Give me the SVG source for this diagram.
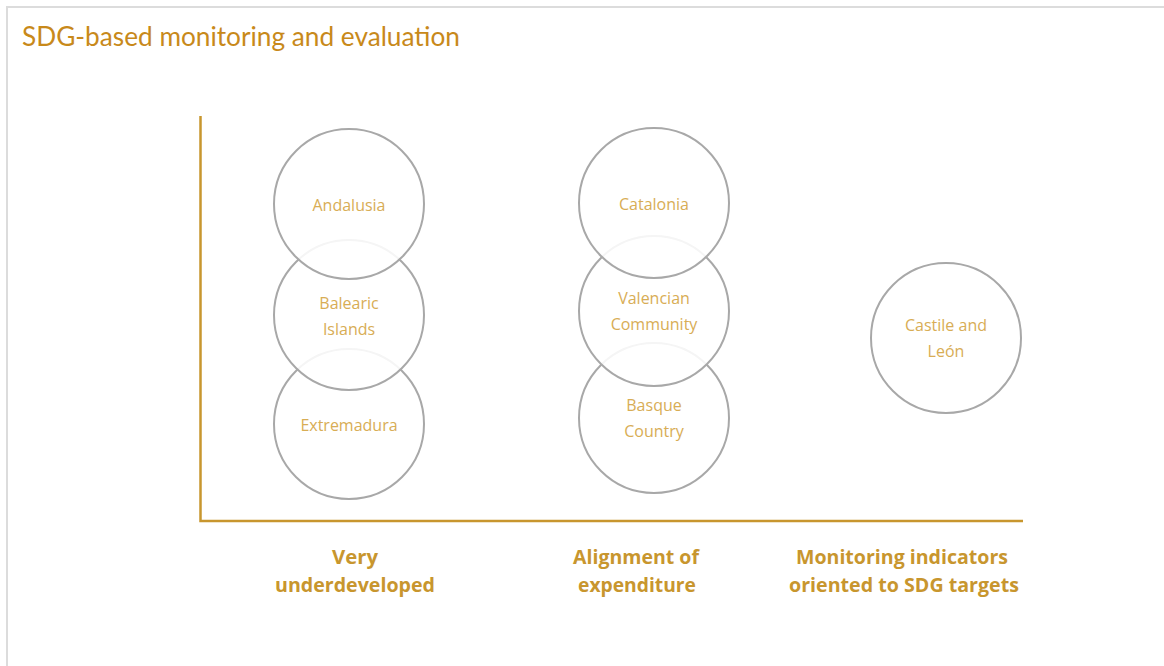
<svg xmlns="http://www.w3.org/2000/svg" width="1164" height="666" viewBox="0 0 1164 666">
<style>
.frame{fill:#fff;stroke:#dcdcdc;stroke-width:2}
.axis{stroke:#c8962e;stroke-width:2.5;fill:none}
.c{fill:#fff;fill-opacity:0.88;stroke:#a8a8a8;stroke-width:2}
.lbl{font-family:"Open Sans","Noto Sans",sans-serif;font-size:16px;fill:#d8ad55;text-anchor:middle}
.cat{font-family:"Open Sans","Noto Sans",sans-serif;font-size:19px;font-weight:bold;fill:#c8962e;text-anchor:middle}
.title{font-family:Lato,"Noto Sans",sans-serif;font-size:26px;fill:#c8891a}
</style>
<rect class="frame" x="7" y="7" width="1170" height="670"/>
<text class="title" x="22" y="46" textLength="438" lengthAdjust="spacingAndGlyphs">SDG-based monitoring and evaluation</text>
<g id="connectors">
<path class="axis" d="M200.5 116 V521 H1023"/>
</g>
<g id="extremadura"><circle class="c" cx="349" cy="424" r="75"/><text class="lbl" x="349" y="431">Extremadura</text></g>
<g id="balearic"><circle class="c" cx="349" cy="315" r="75"/><text class="lbl" x="349" y="309">Balearic</text><text class="lbl" x="349" y="335">Islands</text></g>
<g id="andalusia"><circle class="c" cx="349" cy="204" r="75"/><text class="lbl" x="349" y="211">Andalusia</text></g>
<g id="basque"><circle class="c" cx="654" cy="418" r="75"/><text class="lbl" x="654" y="411">Basque</text><text class="lbl" x="654" y="437">Country</text></g>
<g id="valencian"><circle class="c" cx="654" cy="311" r="75"/><text class="lbl" x="654" y="304">Valencian</text><text class="lbl" x="654" y="330">Community</text></g>
<g id="catalonia"><circle class="c" cx="654" cy="203" r="75"/><text class="lbl" x="654" y="210">Catalonia</text></g>
<g id="castile"><circle class="c" cx="946" cy="338" r="75"/><text class="lbl" x="946" y="331">Castile and</text><text class="lbl" x="946" y="357">León</text></g>
<g id="cat-very">
<text class="cat" x="355" y="564" textLength="46" lengthAdjust="spacingAndGlyphs">Very</text>
<text class="cat" x="355" y="592" textLength="160" lengthAdjust="spacingAndGlyphs">underdeveloped</text>
</g>
<g id="cat-alignment">
<text class="cat" x="636" y="564" textLength="126" lengthAdjust="spacingAndGlyphs">Alignment of</text>
<text class="cat" x="637" y="592" textLength="118" lengthAdjust="spacingAndGlyphs">expenditure</text>
</g>
<g id="cat-monitoring">
<text class="cat" x="902" y="564" textLength="212" lengthAdjust="spacingAndGlyphs">Monitoring indicators</text>
<text class="cat" x="904" y="592" textLength="230" lengthAdjust="spacingAndGlyphs">oriented to SDG targets</text>
</g>
</svg>
